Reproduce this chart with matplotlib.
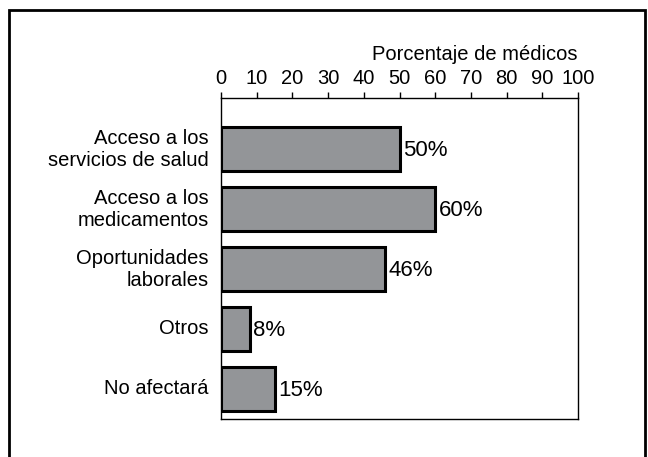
import matplotlib
matplotlib.use("Agg")
import matplotlib.pyplot as plt
import matplotlib.transforms as mtransforms
from matplotlib.patches import Rectangle

plt.rcParams['font.family'] = ['Liberation Sans', 'DejaVu Sans']

categorias = ['Acceso a los\nservicios de salud', 'Acceso a los\nmedicamentos',
              'Oportunidades\nlaborales', 'Otros', 'No afectará']
valores = [50, 60, 46, 8, 15]
ticks_x = list(range(0, 101, 10))

fig = plt.figure(figsize=(6.48, 4.57), dpi=100)
ax = fig.add_axes([221 / 648, 1 - 419 / 457, 357 / 648, 321 / 457])

# marco exterior
fig.patches.append(Rectangle((9 / 648, -0.05), 636 / 648, 1 - 10 / 457 + 0.05,
                             transform=fig.transFigure, fill=False,
                             edgecolor='black', linewidth=2))

pos = list(range(len(categorias)))
ax.barh(pos, valores, height=0.72, color='#939598', edgecolor='black', linewidth=2.2)
for p, v in zip(pos, valores):
    ax.text(v + 0.9, p + 0.02, f'{v}%', va='center', ha='left', fontsize=16)

ax.set_xlim(0, 100)
ax.set_ylim(4.5, -0.85)
ax.set_yticks(pos)
ax.set_yticklabels(categorias, fontsize=14.5, ha='right', multialignment='right',
                   linespacing=1.2)
ax.tick_params(axis='y', length=0, pad=9)
subir = mtransforms.ScaledTranslation(0, 3 / 100, fig.dpi_scale_trans)
for lbl in ax.get_yticklabels():
    lbl.set_transform(lbl.get_transform() + subir)
ax.xaxis.tick_top()
ax.xaxis.set_label_position('top')
ax.set_xticks(ticks_x)
ax.tick_params(axis='x', labelsize=14.5, length=4, pad=3, width=1)
ax.set_xlabel('Porcentaje de médicos', fontsize=14.5, labelpad=7, loc='right')
for s in ax.spines.values():
    s.set_linewidth(1)

fig.savefig('out.png', dpi=100)
